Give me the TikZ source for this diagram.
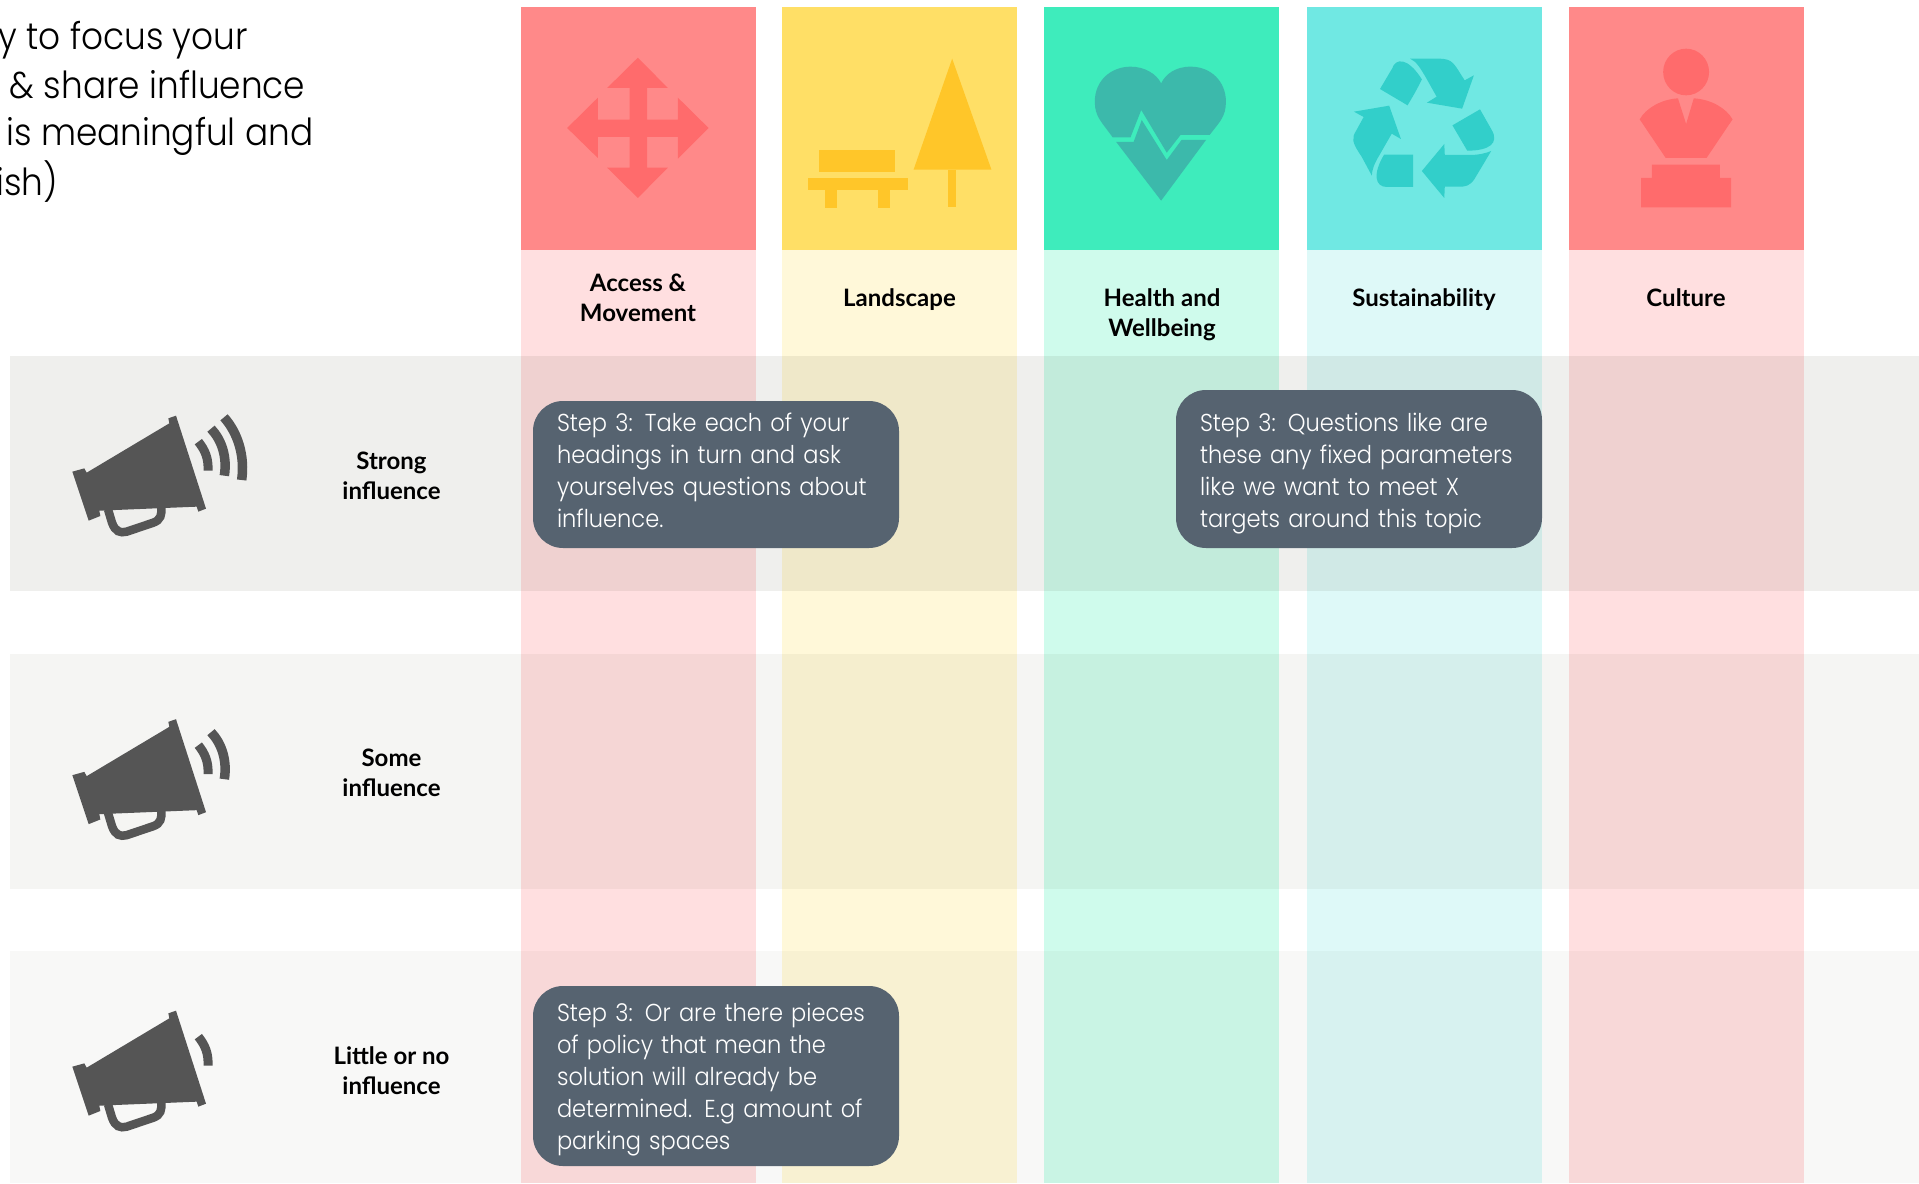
\documentclass[tikz,border=0pt]{standalone}
\usepackage{fontspec}
\setmainfont{Poppins}[UprightFont={* Light},BoldFont={* Medium}]
\newfontfamily\labelfont{Lato}[UprightFont={* Bold}]
\newfontfamily\stepfont{Poppins}[UprightFont={* Light},FakeStretch=0.92]
\newfontfamily\leadfont{Poppins}[UprightFont={* Light},FakeStretch=0.92]
\definecolor{redtop}{HTML}{FF8989}\definecolor{redlt}{HTML}{FFDFE0}\definecolor{redic}{HTML}{FF6B6C}
\definecolor{yeltop}{HTML}{FFDF66}\definecolor{yellt}{HTML}{FFF8D9}\definecolor{yelic}{HTML}{FFC629}
\definecolor{grntop}{HTML}{3EECBC}\definecolor{grnlt}{HTML}{CFFBEC}\definecolor{grnic}{HTML}{3CB9AB}
\definecolor{cyatop}{HTML}{70E8E3}\definecolor{cyalt}{HTML}{DEF9F8}\definecolor{cyaic}{HTML}{32CFCA}
\definecolor{slate}{HTML}{566370}\definecolor{mega}{HTML}{555555}
\definecolor{banda}{HTML}{EFEFED}\definecolor{bandb}{HTML}{F5F5F3}\definecolor{bandc}{HTML}{F8F8F7}
\newcommand{\megabody}{%
  \fill[mega] (140,248) -- (388,100) -- (385,85) -- (408,77) -- (498,356) -- (475,365) -- (470,350) -- (178,362) -- (181,378) -- (146,392) -- (97,245) -- (133,235) -- cycle;
  \draw[mega,line width=8.5pt] (204,358) -- (216,398) .. controls (226,425) and (240,430) .. (260,425) -- (340,398) .. controls (362,390) and (366,375) .. (364,350);}
\newcommand{\waveone}{\draw[mega,line width=9pt] (475,155) .. controls (495,180) and (506,205) .. (504,242);}
\newcommand{\wavetwo}{\draw[mega,line width=9.5pt] (513,116) .. controls (545,150) and (562,200) .. (553,257);}
\newcommand{\wavethree}{\draw[mega,line width=9.5pt] (552,82) .. controls (595,130) and (615,200) .. (605,270);}
\tikzset{
  column/.style={minimum width=235pt,inner sep=0pt,outer sep=0pt,anchor=north west},
  band/.style={inner sep=0pt,outer sep=0pt,anchor=north west,minimum width=1909pt},
  stepbox/.style={fill=slate,rounded corners=30pt,inner sep=0pt,outer sep=0pt,minimum width=366pt,anchor=north west},
  steptext/.style={text=white,font=\stepfont\fontsize{24.5}{32}\selectfont,align=left,text width=318pt,inner sep=0pt,outer sep=0pt,anchor=center},
  head/.style={font=\labelfont\fontsize{24}{30}\selectfont,align=center,text=black,inner sep=0pt},
  lead/.style={font=\leadfont\fontsize{37.3}{48}\selectfont,text=black,anchor=base east,inner sep=0pt},
  zoomA/.style={shift={(500,0)},x=0.35714pt,y=-0.33333pt},
  zoomB/.style={shift={(1030,0)},x=0.5102pt,y=-0.33333pt},
  megaz/.style={x=0.33333pt,y=-0.33333pt},
}
\begin{document}
\begin{tikzpicture}[x=1pt,y=-1pt]
\useasboundingbox (0,0) rectangle (1919,1183);
\fill[white] (0,0) rectangle (1919,1183);
% bands
\node[band,fill=banda,minimum height=235pt] (bandA) at (10,356) {};
\node[band,fill=bandb,minimum height=235pt] (bandB) at (10,654) {};
\node[band,fill=bandc,minimum height=232pt] (bandC) at (10,951) {};
% light columns (multiplied over the bands)
\begin{scope}[blend mode=multiply]
\node[column,fill=redlt,minimum height=933pt] (c1) at (521,250) {};
\node[column,fill=yellt,minimum height=933pt] (c2) at (782,250) {};
\node[column,fill=grnlt,minimum height=933pt] (c3) at (1044,250) {};
\node[column,fill=cyalt,minimum height=933pt] (c4) at (1307,250) {};
\node[column,fill=redlt,minimum height=933pt] (c5) at (1569,250) {};
\end{scope}
% header tiles
\node[column,fill=redtop,minimum height=243pt] (t1) at (521,7) {};
\node[column,fill=yeltop,minimum height=243pt] (t2) at (782,7) {};
\node[column,fill=grntop,minimum height=243pt] (t3) at (1044,7) {};
\node[column,fill=cyatop,minimum height=243pt] (t4) at (1307,7) {};
\node[column,fill=redtop,minimum height=243pt] (t5) at (1569,7) {};
% move icon
\begin{scope}[zoomA]
\fill[redic] (386,173) -- (470,264) -- (412,264) -- (412,359) -- (498,359) -- (498,293) -- (584,384) -- (498,476) -- (498,411) -- (412,411) -- (412,503) -- (470,503) -- (386,594) -- (300,503) -- (363,503) -- (363,411) -- (274,411) -- (274,474) -- (188,384) -- (274,293) -- (274,359) -- (363,359) -- (363,264) -- (300,264) -- cycle;
\fill[yelic] (893,450) rectangle (1106,516);
\fill[yelic] (862,534) rectangle (1142,570);
\fill[yelic] (910,570) rectangle (944,624);
\fill[yelic] (1058,570) rectangle (1092,624);
\fill[yelic] (1266,176) -- (1376,509) -- (1158,509) -- cycle;
\fill[yelic] (1255,509) rectangle (1277,622);
\end{scope}
\begin{scope}[zoomB]
% heart
\fill[grnic] (162,412) .. controls (140,365) and (127,350) .. (127,305) .. controls (127,240) and (160,200) .. (197,200) .. controls (225,200) and (248,222) .. (257,250) .. controls (266,222) and (285,200) .. (315,200) .. controls (355,200) and (384,245) .. (384,305) .. controls (384,350) and (372,365) .. (352,405) -- (295,405) -- (268,458) -- (218,330) -- (197,412) -- cycle;
\fill[grnic] (169,426) -- (203,426) -- (219,360) -- (268,480) -- (297,420) -- (345,420) -- (257,602) -- cycle;
% recycle
\fill[cyaic] (686,267) -- (710,205) .. controls (716,175) and (740,170) .. (768,238) .. controls (758,270) and (750,290) .. (740,316) -- cycle;
\fill[cyaic] (745,176) -- (800,176) .. controls (830,176) and (830,190) .. (852,241) -- (870,226) -- (847,326) -- (778,308) -- (797,290) -- (775,230) .. controls (765,205) and (758,185) .. (745,176) -- cycle;
\fill[cyaic] (882,328) -- (905,390) .. controls (920,430) and (900,452) .. (857,452) -- (828,376) -- cycle;
\fill[cyaic] (904,453) -- (870,540) .. controls (860,558) and (855,560) .. (840,560) -- (813,560) -- (812,594) -- (768,513) -- (812,432) -- (813,465) -- (860,465) .. controls (880,465) and (893,460) .. (904,453) -- cycle;
\fill[cyaic] (694,464) -- (751,464) -- (751,561) -- (700,561) .. controls (675,561) and (672,520) .. (694,464) -- cycle;
\fill[cyaic] (635,335) -- (704,317) -- (727,417) -- (709,401) -- (685,465) .. controls (675,490) and (670,510) .. (670,527) -- (650,470) .. controls (630,425) and (630,415) .. (640,390) -- (654,351) -- cycle;
% person
\fill[redic] (1286,216) ellipse [x radius=45,y radius=70];
\fill[redic] (1270,295) -- (1286,372) -- (1301,295) .. controls (1335,298) and (1365,325) .. (1377,358) -- (1326,474) -- (1246,474) -- (1195,358) .. controls (1207,325) and (1237,298) .. (1270,295) -- cycle;
\fill[redic] (1219,494) -- (1352,494) -- (1352,534) -- (1374,534) -- (1374,622) -- (1198,622) -- (1198,534) -- (1219,534) -- cycle;
\end{scope}
% megaphones
\begin{scope}[shift={(40,390)},megaz]\megabody\waveone\wavetwo\wavethree\end{scope}
\begin{scope}[shift={(40,693.5)},megaz]\megabody\waveone\wavetwo\end{scope}
\begin{scope}[shift={(40,985)},megaz]\megabody\waveone\end{scope}
% headings
\node[head] (h1) at (638,298) {Access \&\\Movement};
\node[head] (h2) at (899.5,299.5) {Landscape};
\node[head] (h3) at (1162,314.5) {Health and\\Wellbeing};
\node[head] (h4) at (1424,299.5) {Sustainability};
\node[head] (h5) at (1686,298) {Culture};
% row labels
\node[head] (r1) at (391.5,475.5) {Strong\\influence};
\node[head] (r2) at (391.5,773) {Some\\influence};
\node[head] (r3) at (391.5,1071) {Little or no\\influence};
% step notes
\node[stepbox,minimum height=147pt] (s1) at (533,401) {};
\node[steptext] (s1t) at ([yshift=3.7pt]s1.center) {Step 3: Take each of your\\headings in turn and ask\\yourselves questions about\\influence.};
\node[stepbox,minimum height=158pt] (s2) at (1176,390) {};
\node[steptext] (s2t) at ([yshift=-5pt]s2.center) {Step 3: Questions like are\\these any fixed parameters\\like we want to meet X\\targets around this topic};
\node[stepbox,minimum height=180pt] (s3) at (533,986) {};
\node[steptext] (s3t) at ([yshift=-3.7pt]s3.center) {Step 3: Or are there pieces\\of policy that mean the\\solution will already be\\determined. E.g amount of\\parking spaces};
% lead text, cut by the left edge
\node[lead] (l1) at (248,49.5) {y to focus your};
\node[lead] (l2) at (305.5,98) {\& share influence};
\node[lead] (l3) at (313.5,145) {is meaningful and};
\node[lead] (l4) at (58,195) {ish)};
\end{tikzpicture}
\end{document}
